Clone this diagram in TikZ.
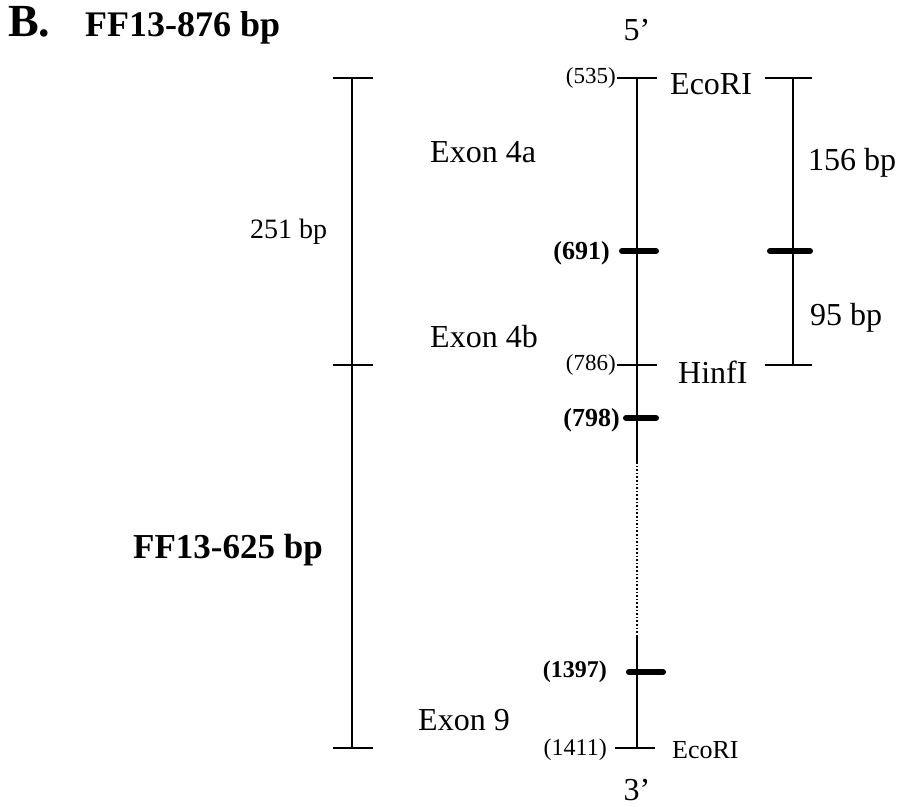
\documentclass[tikz,border=0pt]{standalone}
\usepackage{fontspec}
\setmainfont{Liberation Serif}
\begin{document}
\begin{tikzpicture}[x=1pt,y=-1pt,
  axis/.style={line width=2.8pt},
  thin tick/.style={line width=2.4pt},
  thick tick/.style={line width=6pt, line cap=round},
  lbl/.style={inner sep=0pt, font=\fontsize{32}{34}\selectfont},
  small/.style={inner sep=0pt, font=\fontsize{23}{25}\selectfont},
  smallb/.style={inner sep=0pt, font=\fontsize{26}{28}\selectfont\bfseries},
  big/.style={inner sep=0pt, font=\fontsize{36}{38}\selectfont\bfseries}]
\useasboundingbox (0,0) rectangle (902,806);
% left bar
\coordinate (L1) at (352,78);
\coordinate (L2) at (352,365);
\coordinate (L3) at (352,748);
\draw[axis] (L1) -- (L3);
\draw[thin tick] (333,78) -- (373,78);
\draw[thin tick] (333,365) -- (373,365);
\draw[thin tick] (333,748) -- (373,748);
% main line
\coordinate (M1) at (637,78);
\coordinate (Md1) at (637,462);
\coordinate (Md2) at (637,635);
\coordinate (M2) at (637,748);
\draw[axis] (M1) -- (Md1);
\draw[line width=1.6pt, dotted] (Md1) -- (Md2);
\draw[axis] (Md2) -- (M2);
\draw[thin tick] (617,78) -- (657,78);
\draw[thick tick] (622,251) -- (656,251);
\draw[thin tick] (617,365) -- (657,365);
\draw[thick tick] (626,418) -- (656,418);
\draw[thick tick] (629,672) -- (663,672);
\draw[thin tick] (615,748) -- (655,748);
% right bar
\coordinate (R1) at (793,78);
\coordinate (R3) at (793,365);
\draw[axis] (R1) -- (R3);
\draw[thin tick] (765,78) -- (812,78);
\draw[thick tick] (770,251) -- (810,251);
\draw[thin tick] (765,365) -- (812,365);
% texts
\node[big, anchor=west, font=\fontsize{46}{48}\selectfont\bfseries] (b) at (8,22) {B.};
\node[big, anchor=west] (t1) at (85,28) {FF13-876 bp};
\node[big, anchor=west, font=\fontsize{35}{37}\selectfont\bfseries] (t2) at (133,550) {FF13-625 bp};
\node[lbl] (five) at (637,30) {5'};
\node[lbl] (three) at (637,790) {3'};
\node[small, anchor=east] (p535) at (616,78) {(535)};
\node[lbl, anchor=west] (e1) at (670,84) {EcoRI};
\node[smallb, anchor=east] (p691) at (610,253) {(691)};
\node[small, anchor=east] (p786) at (616,365) {(786)};
\node[lbl, anchor=west] (hinf) at (678,372) {HinfI};
\node[smallb, anchor=east] (p798) at (620,420) {(798)};
\node[smallb, anchor=east, font=\fontsize{24}{26}\selectfont\bfseries] (p1397) at (607,672) {(1397)};
\node[small, anchor=east, font=\fontsize{24}{26}\selectfont] (p1411) at (607,750) {(1411)};
\node[small, anchor=west, font=\fontsize{26}{28}\selectfont] (e2) at (672,750) {EcoRI};
\node[lbl, anchor=west] (x4a) at (430,152) {Exon 4a};
\node[lbl, anchor=west] (x4b) at (430,337) {Exon 4b};
\node[lbl, anchor=west] (x9) at (418,720) {Exon 9};
\node[small, anchor=west, font=\fontsize{28}{30}\selectfont] (bp251) at (250,232) {251 bp};
\node[lbl, anchor=west] (bp156) at (808,163) {156 bp};
\node[lbl, anchor=west] (bp95) at (810,318) {95 bp};
\end{tikzpicture}
\end{document}
